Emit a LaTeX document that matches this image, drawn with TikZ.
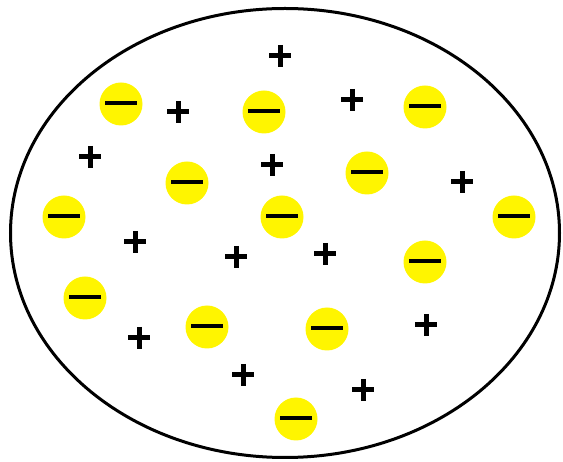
\documentclass[tikz,border=0pt]{standalone}
\usetikzlibrary{shapes.geometric}
\definecolor{eyellow}{RGB}{255,245,0}
\tikzset{
  body/.style={draw=black, ellipse, line width=3pt, inner sep=0pt,
    minimum width=549pt, minimum height=449pt},
  electron/.style={circle, fill=eyellow, inner sep=0pt, minimum size=43pt,
    path picture={\draw[line width=3.5pt]
      ([xshift=-16pt,yshift=1pt]path picture bounding box.center) -- ++(32pt,0pt);}},
  proton/.style={rectangle, inner sep=0pt, minimum size=22pt,
    path picture={\draw[line width=5pt]
      (path picture bounding box.west) -- (path picture bounding box.east)
      (path picture bounding box.north) -- (path picture bounding box.south);}}
}
\begin{document}
\begin{tikzpicture}[x=1pt,y=-1pt]
\useasboundingbox (0,0) rectangle (563,462);
\node[body] (atom) at (285,233) {};
% electrons
\node[electron] (e1) at (121,104) {};
\node[electron] (e2) at (264,112) {};
\node[electron] (e3) at (425,107) {};
\node[electron] (e4) at (187,183) {};
\node[electron] (e5) at (367,173) {};
\node[electron] (e6) at (64,217) {};
\node[electron] (e7) at (282,217) {};
\node[electron] (e8) at (514,217) {};
\node[electron] (e9) at (425,262) {};
\node[electron] (e10) at (85,298) {};
\node[electron] (e11) at (207,327) {};
\node[electron] (e12) at (327,329) {};
\node[electron] (e13) at (296,419) {};
% protons
\node[proton] (p1) at (280,56) {};
\node[proton] (p2) at (178,112) {};
\node[proton] (p3) at (352,100) {};
\node[proton] (p4) at (90,157) {};
\node[proton] (p5) at (272,165) {};
\node[proton] (p6) at (462,182) {};
\node[proton] (p7) at (135,242) {};
\node[proton] (p8) at (236,257) {};
\node[proton] (p9) at (325,254) {};
\node[proton] (p10) at (426,325) {};
\node[proton] (p11) at (139,338) {};
\node[proton] (p12) at (243,375) {};
\node[proton] (p13) at (363,390) {};
\end{tikzpicture}
\end{document}
